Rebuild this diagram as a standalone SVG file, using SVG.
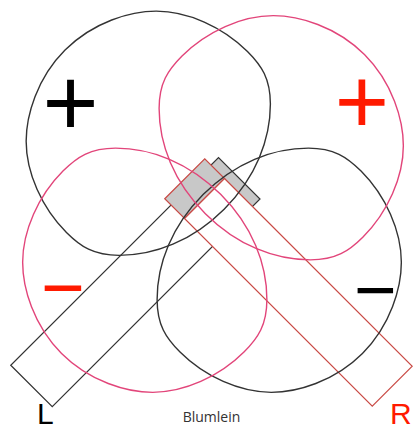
<svg xmlns="http://www.w3.org/2000/svg" width="413" height="432" viewBox="0 0 413 432">
<style>
.lobe{fill:none;stroke-width:1.4}
.blk{stroke:#333}
.pnk{stroke:#e2457a}
.lmic{stroke:#333;stroke-width:1.2}
.rmic{stroke:#c94a45;stroke-width:1.2}
.sign{font-family:"Liberation Sans",Arial,sans-serif;text-anchor:middle}
.lab{font-family:"Liberation Sans",Arial,sans-serif}
</style>
<defs>
<path id="lobe" d="M -20,0 C -20,45 -3.4,82 21.6,107 C 39.6,125 55,128 75,128 C 110,128 146,114 168,92 C 186,74 205,40 205,0 C 205,-40 186,-74 168,-92 C 146,-114 110,-128 75,-128 C 55,-128 39.6,-125 21.6,-107 C -3.4,-82 -20,-45 -20,0 Z"/>
</defs>
<rect width="413" height="432" fill="#fff"/>
<g id="mic-L">
<polygon class="lmic" fill="#fff" points="10.75,365.25 52.25,406.75 240.25,218.75 198.75,177.25"/>
<polygon class="lmic" fill="#c8c8c8" points="198.75,177.25 218.5,157.5 260,199 240.25,218.75"/>
</g>
<g id="mic-R">
<polygon class="rmic" fill="#c8c8c8" points="164.75,198.75 204.75,158.75 224.5,178.5 184.5,218.5"/>
<polygon class="rmic" fill="#fff" points="224.5,178.5 412.25,366.25 372.25,406.25 184.5,218.5"/>
</g>
<g id="connectors">
<use href="#lobe" class="lobe blk" transform="translate(210,195) rotate(225)"/>
<use href="#lobe" class="lobe blk" transform="translate(217.5,208.5) rotate(45)"/>
<use href="#lobe" class="lobe pnk" transform="translate(219.5,199.5) rotate(-45)"/>
<use href="#lobe" class="lobe pnk" transform="translate(206.5,208.5) rotate(135)"/>
</g>
<g id="signs">
<text class="sign" x="70.5" y="135.8" font-size="96" fill="#000">+</text>
<text class="sign" x="362" y="132.8" font-size="93" fill="#ff1a00">+</text>
<text class="sign" x="63" y="313.3" font-size="75" fill="#ff1a00">−</text>
<text class="sign" x="375.3" y="314.6" font-size="73" fill="#000">−</text>
</g>
<g id="labels">
<text class="lab" x="37" y="424" font-size="30" fill="#000">L</text>
<text class="lab" x="390" y="424" font-size="30" fill="#ff1a00">R</text>
<text x="211.5" y="422" font-family="'Open Sans',sans-serif" font-size="14" fill="#333" text-anchor="middle">Blumlein</text>
</g>
</svg>
